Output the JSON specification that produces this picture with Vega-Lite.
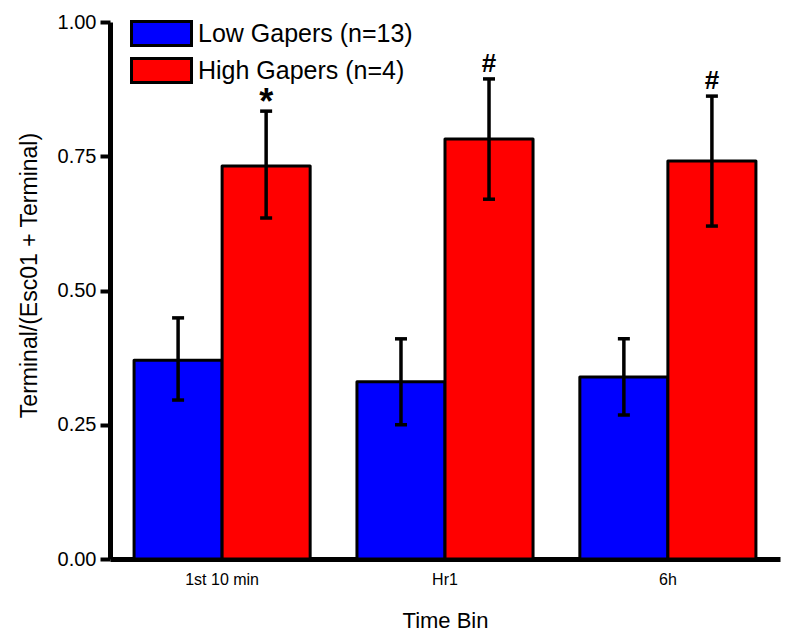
{
  "$schema": "https://vega.github.io/schema/vega-lite/v6.json",
  "autosize": {"type": "none"},
  "width": 670,
  "height": 537,
  "padding": {"left": 110, "top": 22, "right": 20, "bottom": 83},
  "background": "white",
  "config": {
    "view": {"stroke": null},
    "font": "Liberation Sans"
  },
  "data": {
    "values": [
      {"bin": "1st 10 min", "group": "Low Gapers (n=13)", "mean": 0.37, "lo": 0.296, "hi": 0.449, "sig": ""},
      {"bin": "1st 10 min", "group": "High Gapers (n=4)", "mean": 0.732, "lo": 0.635, "hi": 0.834, "sig": "*"},
      {"bin": "Hr1", "group": "Low Gapers (n=13)", "mean": 0.33, "lo": 0.25, "hi": 0.41, "sig": ""},
      {"bin": "Hr1", "group": "High Gapers (n=4)", "mean": 0.782, "lo": 0.67, "hi": 0.894, "sig": "#"},
      {"bin": "6h", "group": "Low Gapers (n=13)", "mean": 0.339, "lo": 0.268, "hi": 0.41, "sig": ""},
      {"bin": "6h", "group": "High Gapers (n=4)", "mean": 0.741, "lo": 0.62, "hi": 0.862, "sig": "#"}
    ]
  },
  "encoding": {
    "x": {
      "field": "bin", "type": "nominal", "sort": ["1st 10 min", "Hr1", "6h"],
      "scale": {"paddingInner": 0.21, "paddingOuter": 0.108},
      "axis": {
        "title": "Time Bin", "labelAngle": 0, "labelFontSize": 16, "labelColor": "black",
        "titleFontSize": 22, "titleFontWeight": "normal", "titleColor": "black", "titlePadding": 23,
        "domainColor": "black", "domainWidth": 5, "ticks": false, "labelPadding": 12
      }
    },
    "xOffset": {"field": "group", "type": "nominal", "sort": ["Low Gapers (n=13)", "High Gapers (n=4)"]}
  },
  "layer": [
    {
      "mark": {"type": "bar", "stroke": "black", "strokeWidth": 3, "strokeJoin": "round"},
      "encoding": {
        "y": {
          "field": "mean", "type": "quantitative",
          "scale": {"domain": [0, 1]},
          "axis": {
            "title": "Terminal/(Esc01 + Terminal)", "values": [0, 0.25, 0.5, 0.75, 1], "format": ".2f",
            "labelFontSize": 20, "labelColor": "black", "titleFontSize": 23, "titleFontWeight": "normal",
            "titleColor": "black", "titlePadding": 16, "titleY": 253, "domainColor": "black", "domainWidth": 5,
            "tickColor": "black", "tickWidth": 4, "tickSize": 10, "labelPadding": 4, "grid": false
          }
        },
        "color": {
          "field": "group", "type": "nominal", "sort": ["Low Gapers (n=13)", "High Gapers (n=4)"],
          "scale": {"range": ["#0000FF", "#FF0000"]},
          "legend": {
            "title": null, "orient": "none", "legendX": 35, "legendY": -5,
            "symbolType": "M-2,-0.8H2V0.8H-2Z", "symbolSize": 900, "symbolStrokeColor": "black",
            "symbolStrokeWidth": 3, "symbolOpacity": 1, "labelLimit": 400,
            "labelFontSize": 25, "labelColor": "black", "labelOffset": 20, "rowPadding": 0
          }
        }
      }
    },
    {
      "mark": {"type": "rule", "color": "black", "strokeWidth": 3.5},
      "encoding": {
        "y": {"field": "lo", "type": "quantitative"},
        "y2": {"field": "hi"}
      }
    },
    {
      "mark": {"type": "tick", "color": "black", "thickness": 3.5, "size": 12, "opacity": 1},
      "encoding": {"y": {"field": "lo", "type": "quantitative"}}
    },
    {
      "mark": {"type": "tick", "color": "black", "thickness": 3.5, "size": 12, "opacity": 1},
      "encoding": {"y": {"field": "hi", "type": "quantitative"}}
    },
    {
      "transform": [{"filter": "datum.sig == '*'"}],
      "mark": {"type": "text", "baseline": "alphabetic", "dy": 3, "fontSize": 36, "fontWeight": "bold", "color": "black"},
      "encoding": {
        "y": {"field": "hi", "type": "quantitative"},
        "text": {"field": "sig"}
      }
    },
    {
      "transform": [{"filter": "datum.sig == '#'"}],
      "mark": {"type": "text", "baseline": "alphabetic", "dy": -7, "fontSize": 26, "fontWeight": "bold", "color": "black"},
      "encoding": {
        "y": {"field": "hi", "type": "quantitative"},
        "text": {"field": "sig"}
      }
    }
  ]
}
